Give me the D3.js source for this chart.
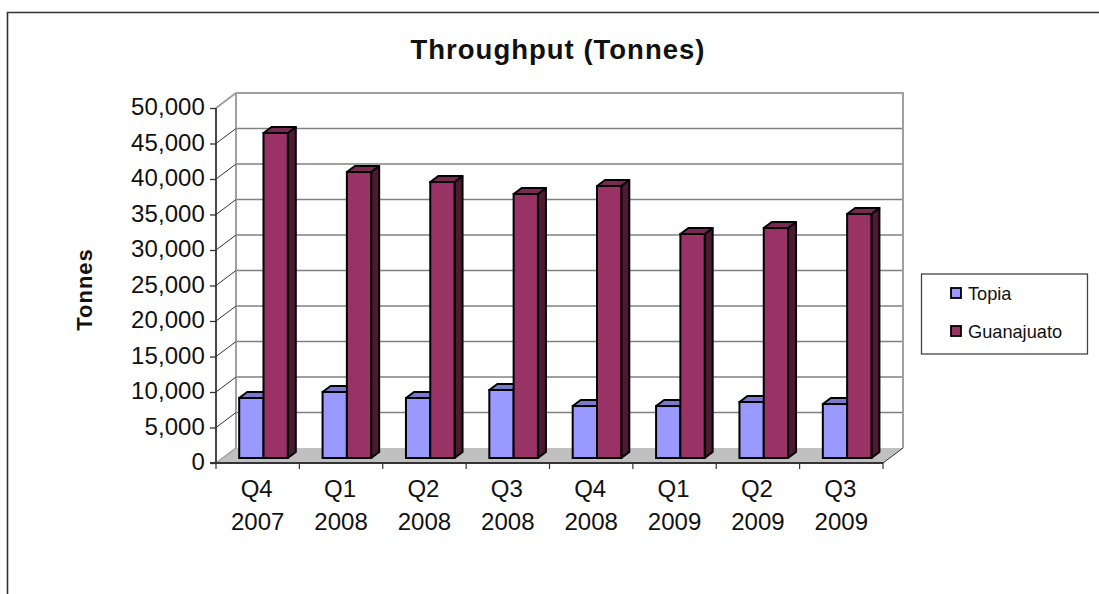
<!DOCTYPE html>
<html><head><meta charset="utf-8">
<script src="https://cdn.jsdelivr.net/npm/d3@7"></script>
<style>html,body{margin:0;padding:0;background:#fff}svg{display:block}text{font-family:"Liberation Sans",Arial,sans-serif;fill:#111}</style>
</head><body><svg id="c" width="1099" height="594"></svg>
<script>
const quarters=["Q4","Q1","Q2","Q3","Q4","Q1","Q2","Q3"];
const years=["2007","2008","2008","2008","2008","2009","2009","2009"];
const topia=[8450,9300,8450,9580,7320,7320,7890,7600];
const guanajuato=[45775,40280,38870,37180,38310,31550,32390,34370];
const yTicks=[0,5000,10000,15000,20000,25000,30000,35000,40000,45000,50000];
const seriesNames=["Topia","Guanajuato"];
const seriesColors=["#9999ff","#993366"];
const topColors=["#7a7acc","#7a2952"];
const sideColors=["#5c5c99","#4d1a33"];

const svg=d3.select("#c");
const depthX=20,depthY=-15;
const x=d3.scaleBand().domain(d3.range(8)).range([216,883]).paddingInner(0);
const y=d3.scaleLinear().domain([0,50000]).range([463,108]);
const fmt=d3.format(",");

// outer frame
svg.append("path").attr("d","M7.5,594V12.5H1099").attr("fill","none").attr("stroke","#333").attr("stroke-width",1.6);
svg.append("text").attr("x",558).attr("y",58.5).attr("text-anchor","middle").attr("font-weight","bold").attr("font-size",27.5).attr("letter-spacing",1).text("Throughput (Tonnes)");

// floor
const [x0,x1]=x.range();
svg.append("path").attr("d",`M${x0},${y(0)}L${x0+depthX},${y(0)+depthY}H${x1+depthX}L${x1},${y(0)}Z`).attr("fill","#c0c0c0");
// back wall gridlines
svg.append("g").selectAll("line").data(yTicks.slice(1,-1)).join("line")
 .attr("x1",x0+depthX).attr("x2",x1+depthX).attr("y1",d=>y(d)+depthY).attr("y2",d=>y(d)+depthY).attr("stroke","#808080").attr("stroke-width",1.5);
// wall edges
svg.append("path").attr("d",`M${x0},${y(50000)}L${x0+depthX},${y(50000)+depthY}H${x1+depthX}V${y(0)+depthY}`).attr("fill","none").attr("stroke","#a0a0a0").attr("stroke-width",2);
svg.append("path").attr("d",`M${x0+depthX},${y(50000)+depthY}V${y(0)+depthY}`).attr("fill","none").attr("stroke","#a0a0a0").attr("stroke-width",2);
svg.append("path").attr("d",`M${x0},${y(0)}L${x0+depthX},${y(0)+depthY}`).attr("fill","none").attr("stroke","#a0a0a0").attr("stroke-width",1.5);
svg.append("path").attr("d",`M${x1},${y(0)}L${x1+depthX},${y(0)+depthY}`).attr("fill","none").attr("stroke","#333");
// side wall diagonals
svg.append("g").selectAll("line").data(yTicks.slice(1,-1)).join("line")
 .attr("x1",x0).attr("y1",d=>y(d)).attr("x2",x0+depthX).attr("y2",d=>y(d)+depthY).attr("stroke","#333").attr("stroke-width",1);

// axes
const yAxis=d3.axisLeft(y).tickValues(yTicks).tickFormat(fmt).tickSize(6).tickPadding(5);
const gy=svg.append("g").attr("transform",`translate(${x0},0)`).call(yAxis);
gy.selectAll("text").attr("font-size",24).attr("letter-spacing",0.1).attr("dy",null).attr("y",6.5);
gy.select(".domain").attr("stroke","#333").attr("stroke-width",1.8).attr("d",`M0,${y(50000)}V${y(0)}`);
gy.selectAll(".tick line").attr("stroke","#333").attr("stroke-width",1.3);
const xTickPos=d3.range(9).map(i=>x0+i*x.step());
svg.append("line").attr("x1",x0-6).attr("x2",x1).attr("y1",y(0)).attr("y2",y(0)).attr("stroke","#333").attr("stroke-width",1.8);
svg.append("g").selectAll("line").data(xTickPos).join("line").attr("x1",d=>d).attr("x2",d=>d).attr("y1",y(0)).attr("y2",y(0)+6).attr("stroke","#333").attr("stroke-width",1.2);
svg.append("g").selectAll("text").data(quarters).join("text").attr("text-anchor","middle").attr("font-size",24)
 .attr("x",(d,i)=>x(i)+x.step()/2-1).attr("y",497).text(d=>d);
svg.append("g").selectAll("text").data(years).join("text").attr("text-anchor","middle").attr("font-size",24)
 .attr("x",(d,i)=>x(i)+x.step()/2).attr("y",530).text(d=>d);
svg.append("text").attr("transform","translate(92,289.5) rotate(-90)").attr("text-anchor","middle").attr("font-weight","bold").attr("font-size",22).attr("letter-spacing",1).text("Tonnes");

// bars
const barW=24.3,off=23.2,bd=8,bh=-6,lift=-5;
function bar(g,v,i,s){
 const l=x(i)+off+s*barW,r=l+barW,t=y(v)+lift,b=y(0)+lift;
 g.append("path").attr("d",`M${r},${b}V${t}L${r+bd},${t+bh}V${b+bh}L${r},${b}Z`).attr("fill",sideColors[s]).attr("stroke","#000").attr("stroke-width",2).attr("stroke-linejoin","round");
 g.append("path").attr("d",`M${l},${t}L${l+bd},${t+bh}H${r+bd}L${r},${t}Z`).attr("fill",topColors[s]).attr("stroke","#000").attr("stroke-width",2).attr("stroke-linejoin","round");
 g.append("rect").attr("x",l).attr("y",t).attr("width",barW).attr("height",b-t).attr("fill",seriesColors[s]).attr("stroke","#000").attr("stroke-width",2);
}
const bars=svg.append("g");
topia.forEach((v,i)=>{bar(bars,v,i,0);bar(bars,guanajuato[i],i,1);});

// legend
const leg=svg.append("g");
leg.append("rect").attr("x",921.5).attr("y",274).attr("width",166).attr("height",80).attr("fill","#fff").attr("stroke","#444").attr("stroke-width",1.3);
seriesNames.forEach((n,i)=>{
 const yy=293+i*38;
 leg.append("rect").attr("x",951).attr("y",yy-5).attr("width",10).attr("height",10).attr("fill",seriesColors[i]).attr("stroke","#000").attr("stroke-width",1.8);
 leg.append("text").attr("x",968).attr("y",yy+6.5).attr("font-size",18.2).text(n);
});
</script></body></html>
